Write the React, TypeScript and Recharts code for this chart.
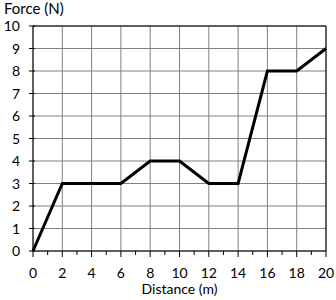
import { LineChart, Line, XAxis, YAxis, CartesianGrid, ReferenceLine, Label } from "recharts";

const distance = [0, 2, 6, 8, 10, 12, 14, 16, 18, 20];
const force = [0, 3, 3, 4, 4, 3, 3, 8, 8, 9];
const xTicks = [0, 1, 2, 3, 4, 5, 6, 7, 8, 9, 10, 11, 12, 13, 14, 15, 16, 17, 18, 19, 20];
const xGrid = [0, 2, 4, 6, 8, 10, 12, 14, 16, 18, 20];
const yTicks = [0, 1, 2, 3, 4, 5, 6, 7, 8, 9, 10];

const data = distance.map((d, i) => ({ distance: d, force: force[i] }));

function XTick(props: any) {
  const { x, y, payload } = props;
  const major = payload.value % 2 === 0;
  return (
    <g>
      <line x1={x} x2={x} y1={y} y2={y + (major ? 6 : 4)} stroke="#000" />
      {major && (
        <text x={x} y={y + 27} textAnchor="middle" fontSize={14} fill="#000">
          {payload.value}
        </text>
      )}
    </g>
  );
}

function YTick(props: any) {
  const { x, y, payload } = props;
  return (
    <g>
      <line x1={x - 4} x2={x + 2} y1={y} y2={y} stroke="#000" />
      <text x={x - 13} y={y + 5} textAnchor="end" fontSize={14} fill="#000">
        {payload.value}
      </text>
    </g>
  );
}

export default function App() {
  return (
    <div style={{ position: "absolute", left: 0, top: 0, width: 336, height: 300, background: "#fff", fontFamily: "Lato, sans-serif" }}>
      <div style={{ position: "absolute", left: 4, top: 1, fontSize: 15, color: "#000", lineHeight: "14px" }}>Force (N)</div>
      <LineChart width={336} height={300} data={data} margin={{ top: 26, right: 10, left: 0, bottom: 0 }}>
        <CartesianGrid stroke="#808080" verticalValues={xGrid} horizontalValues={yTicks} />
        <XAxis
          dataKey="distance"
          type="number"
          domain={[0, 20]}
          ticks={xTicks}
          interval={0}
          height={49}
          tickSize={0}
          tickMargin={0}
          tickLine={false}
          axisLine={{ stroke: "#000" }}
          tick={<XTick />}
        >
          <Label value="Distance (m)" position="insideBottom" offset={6} fontSize={14} fill="#000" />
        </XAxis>
        <YAxis
          type="number"
          domain={[0, 10]}
          ticks={yTicks}
          interval={0}
          width={33}
          tickSize={0}
          tickMargin={0}
          tickLine={false}
          axisLine={{ stroke: "#000" }}
          tick={<YTick />}
        />
        <ReferenceLine y={10} stroke="#000" />
        <ReferenceLine x={20} stroke="#000" />
        <Line type="linear" dataKey="force" stroke="#000" strokeWidth={3} dot={false} isAnimationActive={false} />
      </LineChart>
    </div>
  );
}
